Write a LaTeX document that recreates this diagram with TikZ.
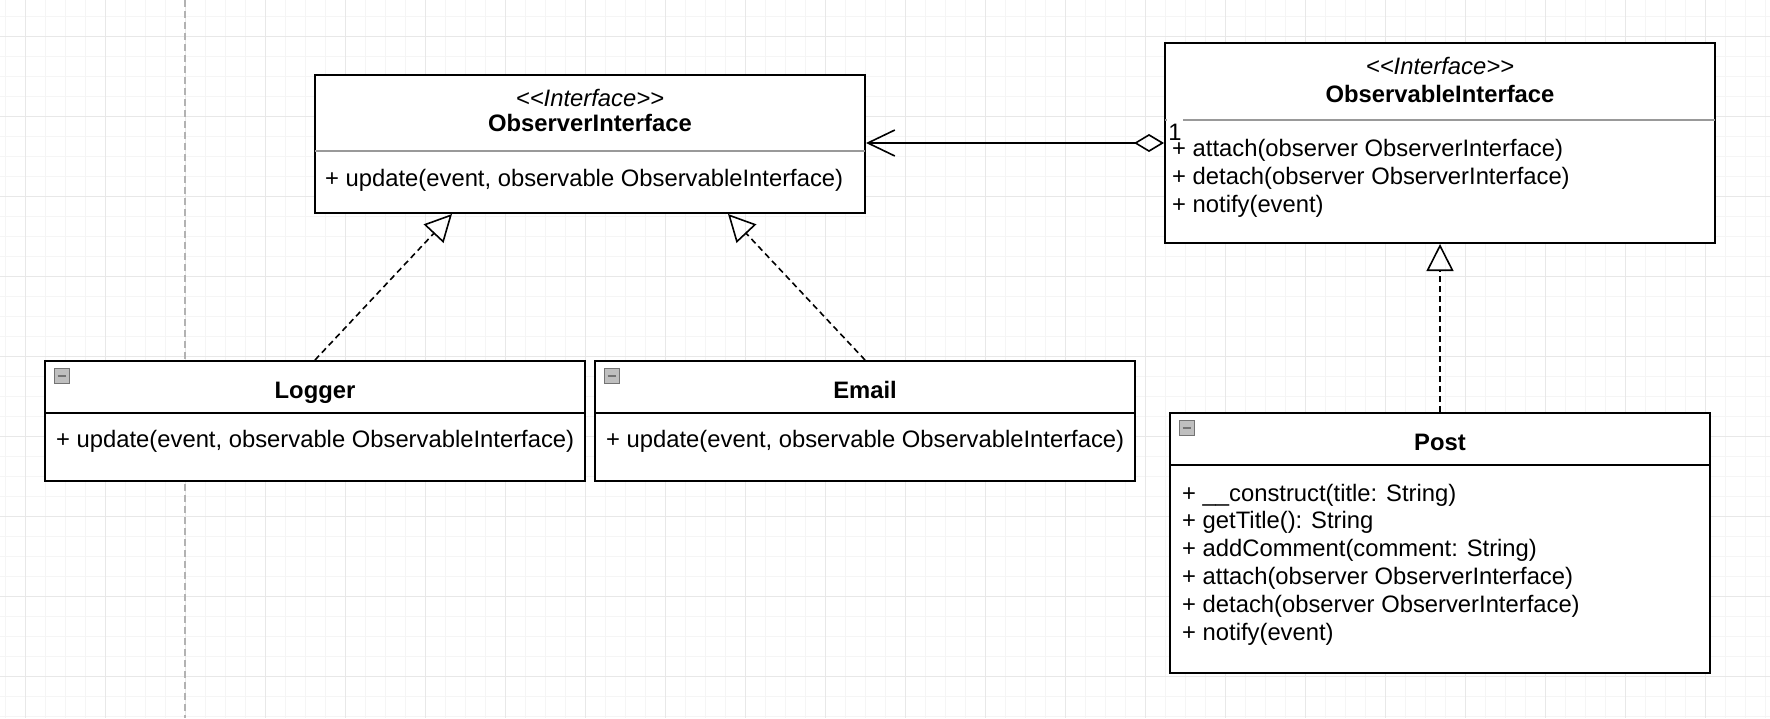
\documentclass[tikz,border=0pt]{standalone}
\usepackage{fontspec}
\setmainfont{Liberation Sans}
\usepackage{tikz}
\usetikzlibrary{positioning, arrows.meta, calc}

\newcommand{\umlsize}{\fontsize{23.8pt}{27.8pt}\selectfont}
\newcommand{\stereotxt}{\textless\kern0pt\textless Interface\textgreater\kern0pt\textgreater}

\begin{document}
\begin{tikzpicture}[
  x=1pt, y=-1pt,
  every node/.style={font=\umlsize},
  classbox/.style={draw, line width=2pt, fill=white, inner sep=0pt},
  ifacebox/.style={classbox, minimum width=550pt},
  implbox/.style={classbox, minimum width=540pt},
  stereo/.style={font=\umlsize\itshape, inner sep=0pt, text height=17.4pt, text depth=5pt},
  ctitle/.style={font=\umlsize\bfseries, inner sep=0pt, text height=17.4pt, text depth=5pt},
  members/.style={align=left, anchor=west, inner sep=0pt},
  ifacediv/.style={draw=black!40, line width=2pt},
  classdiv/.style={draw=black, line width=2pt},
  foldicon/.style={draw=black!55, fill=black!25, line width=0.9pt, minimum size=15pt, inner sep=0pt,
    path picture={\draw[line width=1.8pt] ($(path picture bounding box.west)+(3.5pt,0)$) -- ($(path picture bounding box.east)+(-3.5pt,0)$);}},
  realize/.style={-{Triangle[open, length=27pt, width=27pt]}, line width=1.6pt, dash pattern=on 6pt off 4pt},
  assoc/.style={{Diamond[open, length=30pt, width=18pt]}-{Straight Barb[length=27pt, width=26pt]}, line width=1.6pt},
  mult/.style={fill=white, inner xsep=1.5pt, inner ysep=0pt, text height=22pt, text depth=0pt, xshift=2pt, yshift=2pt},
  minorgrid/.style={draw=black!4, line width=0.8pt},
  majorgrid/.style={draw=black!9, line width=1pt},
  pageguide/.style={draw=black!30, line width=1.6pt, dash pattern=on 7pt off 4pt},
]

% === Canvas ===
\fill[white] (0,0) rectangle (1770,718);
\useasboundingbox (0,0) rectangle (1770,718);
\foreach \gx in {5,25,...,1765} \draw[minorgrid] (\gx,0) -- (\gx,718);
\foreach \gy in {16,36,...,716} \draw[minorgrid] (0,\gy) -- (1770,\gy);
\foreach \gx in {25,105,...,1705} \draw[majorgrid] (\gx,0) -- (\gx,718);
\foreach \gy in {36,116,...,676} \draw[majorgrid] (0,\gy) -- (1770,\gy);
\draw[pageguide] (185,0) -- (185,718);

% === Interfaces ===
% ObserverInterface
\node[ifacebox, minimum height=138pt] (obsrv) at (590,144) {};
\node[stereo] (obsrv-st) at ($(obsrv.north)+(0,26)$) {\stereotxt};
\node[ctitle] (obsrv-name) at ($(obsrv.north)+(0,51)$) {ObserverInterface};
\draw[ifacediv] ($(obsrv.north west)+(1,77)$) -- ($(obsrv.north east)+(-1,77)$);
\node[members] (obsrv-ops) at ($(obsrv.north west)+(11,106)$) {+ update(event, observable ObservableInterface)};

% ObservableInterface
\node[ifacebox, minimum height=200pt] (subj) at (1440,143) {};
\node[stereo] (subj-st) at ($(subj.north)+(0,26)$) {\stereotxt};
\node[ctitle] (subj-name) at ($(subj.north)+(0,54)$) {ObservableInterface};
\draw[ifacediv] ($(subj.north west)+(1,78)$) -- ($(subj.north east)+(-1,78)$);
\node[members] (subj-ops) at ($(subj.north west)+(8,136.5)$) {+ attach(observer ObserverInterface)\\+ detach(observer ObserverInterface)\\+ notify(event)};

% === Concrete observers ===
% Logger
\node[implbox, minimum height=120pt] (logger) at (315,421) {};
\node[foldicon] (logger-fold) at ($(logger.north west)+(17.5,16)$) {};
\node[ctitle] (logger-name) at ($(logger.north)+(0,32)$) {Logger};
\draw[classdiv] ($(logger.north west)+(1,53)$) -- ($(logger.north east)+(-1,53)$);
\node[members] (logger-ops) at ($(logger.north west)+(12,81.3)$) {+ update(event, observable ObservableInterface)};

% Email
\node[implbox, minimum height=120pt, right=8pt of logger] (email) {};
\node[foldicon] (email-fold) at ($(email.north west)+(17.5,16)$) {};
\node[ctitle] (email-name) at ($(email.north)+(0,32)$) {Email};
\draw[classdiv] ($(email.north west)+(1,53)$) -- ($(email.north east)+(-1,53)$);
\node[members] (email-ops) at ($(email.north west)+(12,81.3)$) {+ update(event, observable ObservableInterface)};

% === Concrete subject ===
\node[implbox, minimum height=260pt] (post) at (1440,543) {};
\node[foldicon] (post-fold) at ($(post.north west)+(17.5,16)$) {};
\node[ctitle] (post-name) at ($(post.north)+(0,32)$) {Post};
\draw[classdiv] ($(post.north west)+(1,53)$) -- ($(post.north east)+(-1,53)$);
\node[members] (post-ops) at ($(post.north west)+(13,152.5)$) {+ \_\_construct(title: String)\\+ getTitle(): String\\+ addComment(comment: String)\\+ attach(observer ObserverInterface)\\+ detach(observer ObserverInterface)\\+ notify(event)};

% === Relations ===
\draw[assoc] (subj.west) -- node[mult, pos=0, anchor=south west] (one) {1} (subj.west -| obsrv.east);

\coordinate (obsrv-left) at ($(obsrv.south west)!0.25!(obsrv.south east)$);
\coordinate (obsrv-right) at ($(obsrv.south west)!0.75!(obsrv.south east)$);
\draw[realize] (logger.north) -- (obsrv-left);
\draw[realize] (email.north) -- (obsrv-right);
\draw[realize] (post.north) -- (subj.south);

\end{tikzpicture}
\end{document}
